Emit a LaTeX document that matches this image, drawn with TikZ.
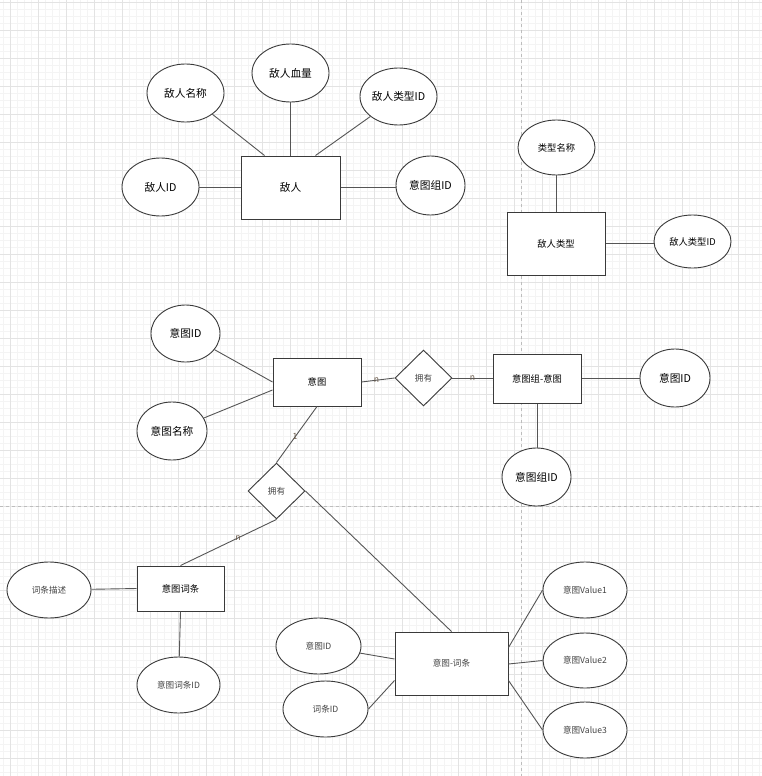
\documentclass[tikz,border=0pt]{standalone}
\usepackage{fontspec}
\setmainfont{Noto Sans CJK SC}
\usetikzlibrary{shapes.geometric,calc}
\definecolor{gridmin}{HTML}{F4F4F4}
\definecolor{gridmaj}{HTML}{E3E3E3}
\definecolor{pagebrk}{HTML}{BDBDBD}
\definecolor{shapeline}{HTML}{3A3A3A}
\definecolor{edgeline}{HTML}{555555}
\definecolor{txtsoft}{HTML}{444444}
\definecolor{lbl}{HTML}{6A5A4A}
\tikzset{
  ent/.style={draw=shapeline, line width=1pt, fill=white, inner sep=0pt, align=center},
  attr/.style={ellipse, draw=shapeline, line width=0.9pt, fill=white, inner sep=0pt},
  rel/.style={diamond, draw=shapeline, line width=0.9pt, fill=white, inner sep=0pt, aspect=1},
  conn/.style={draw=edgeline, line width=0.9pt},
  card/.style={font=\fontsize{8.6}{9}\selectfont, text=lbl, inner sep=1pt},
  big/.style={font=\fontsize{10.7}{12}\selectfont, text=black},
  mid/.style={font=\fontsize{9.3}{11}\selectfont, text=black},
  sml/.style={font=\fontsize{8.6}{10}\selectfont, text=txtsoft},
}
\begin{document}
\begin{tikzpicture}[x=1pt,y=-1pt]
\useasboundingbox (0,0) rectangle (762,776);
\fill[white] (0,0) rectangle (762,776);
% grid
\foreach \i in {0,...,108} {\draw[gridmin,line width=0.5pt] ({3+7*\i},0) -- ({3+7*\i},776);}
\foreach \i in {0,...,110} {\draw[gridmin,line width=0.5pt] (0,{2+7*\i}) -- (762,{2+7*\i});}
\foreach \i in {0,...,27} {\draw[gridmaj,line width=0.6pt] ({10+28*\i},0) -- ({10+28*\i},776);}
\foreach \i in {0,...,27} {\draw[gridmaj,line width=0.6pt] (0,{2+28*\i}) -- (762,{2+28*\i});}
\draw[pagebrk,line width=0.6pt,dash pattern=on 3pt off 3pt] (521.5,0) -- (521.5,776);
\draw[pagebrk,line width=0.6pt,dash pattern=on 3pt off 3pt] (0,506) -- (762,506);

% enemy group
\node[ent, big, minimum width=99pt, minimum height=63pt] (E1) at (290.5,187.5) {敌人};
\node[attr, big, minimum width=77pt, minimum height=58pt] (a1) at (160.5,187) {敌人ID};
\node[attr, big, minimum width=77pt, minimum height=58pt] (a2) at (185.5,93) {敌人名称};
\node[attr, big, minimum width=77pt, minimum height=58pt] (a3) at (290.5,73) {敌人血量};
\node[attr, big, minimum width=77pt, minimum height=57pt] (a4) at (398.5,96.5) {敌人类型ID};
\node[attr, big, minimum width=69pt, minimum height=59pt] (a5) at (430.5,185.5) {意图组ID};

% enemy type group
\node[ent, mid, minimum width=98pt, minimum height=63pt] (E2) at (556,243.5) {敌人类型};
\node[attr, mid, minimum width=77pt, minimum height=55pt] (b1) at (556.5,147.5) {类型名称};
\node[attr, mid, minimum width=77pt, minimum height=53pt] (b2) at (692.5,241.5) {敌人类型ID};

% intent group
\node[ent, mid, minimum width=88pt, minimum height=48pt] (E3) at (317,382) {意图};
\node[attr, big, minimum width=69pt, minimum height=57pt] (c1) at (185.5,333.5) {意图ID};
\node[attr, big, minimum width=70pt, minimum height=58pt] (c2) at (172,431) {意图名称};
\node[rel, sml, minimum width=57pt, minimum height=56pt] (R1) at (423.5,378) {拥有};
\node[ent, mid, minimum width=88pt, minimum height=49pt] (E4) at (537,378.5) {意图组-意图};
\node[attr, big, minimum width=70pt, minimum height=58pt] (d1) at (675,378) {意图ID};
\node[attr, big, minimum width=69pt, minimum height=58pt] (d2) at (536.5,477) {意图组ID};

% entry group
\node[rel, sml, minimum width=57pt, minimum height=56pt] (R2) at (276.5,491) {拥有};
\node[ent, mid, minimum width=87pt, minimum height=45pt] (E5) at (180.5,588.5) {意图词条};
\node[attr, sml, minimum width=84pt, minimum height=56pt] (e1) at (49,590) {词条描述};
\node[attr, sml, minimum width=83pt, minimum height=56pt] (e2) at (178.5,685) {意图词条ID};

\node[ent, sml, minimum width=113pt, minimum height=63pt] (E6) at (451.5,663.5) {意图-词条};
\node[attr, sml, minimum width=85pt, minimum height=56pt] (f1) at (318.5,646) {意图ID};
\node[attr, sml, minimum width=85pt, minimum height=56pt] (f2) at (325.5,709) {词条ID};
\node[attr, sml, minimum width=84pt, minimum height=56pt] (g1) at (585,590) {意图Value1};
\node[attr, sml, minimum width=84pt, minimum height=55pt] (g2) at (585,660.5) {意图Value2};
\node[attr, sml, minimum width=84pt, minimum height=56pt] (g3) at (585,730) {意图Value3};

% connectors
\draw[conn] (a1) -- (E1.west |- a1);
\draw[conn] (a2) -- ($(E1.north west)+(24,0)$);
\draw[conn] (a3) -- (a3 |- E1.north);
\draw[conn] (a4) -- ($(E1.north east)+(-25,0)$);
\draw[conn] (E1.east) -- (E1.east -| a5.west);

\draw[conn] (b1) -- (b1 |- E2.north);
\draw[conn] (E2.east) -- (E2.east -| b2.west);

\draw[conn] (c1) -- (E3.west);
\draw[conn] (c2) -- ($(E3.west)+(0,8)$);
\draw[conn] (E3.east) -- node[card, pos=0.45] {n} (R1.west);
\draw[conn] (R1.east) -- node[card, pos=0.5] {n} (E4.west |- R1.east);
\draw[conn] (E4.east) -- (E4.east -| d1.west);
\draw[conn] (E4.south) -- (E4.south |- d2.north);

\draw[conn] (E3.south) -- node[card, pos=0.54] {1} (R2.north);
\draw[conn] (R2.south) -- node[card, pos=0.4] {n} (E5.north);
\draw[conn] (R2.east) -- (E6.north);
\draw[conn] (e1) -- (E5.west);
\draw[conn] (E5.south) -- (e2);

\draw[conn] (f1) -- ($(E6.west)+(0,-4.5)$);
\draw[conn] (f2.east) -- ($(E6.west)+(0,17)$);
\draw[conn] ($(E6.east)+(0,-16)$) -- (g1.west);
\draw[conn] ($(E6.east)+(0,0.5)$) -- (g2.west);
\draw[conn] ($(E6.east)+(0,17)$) -- (g3.west);
\end{tikzpicture}
\end{document}
